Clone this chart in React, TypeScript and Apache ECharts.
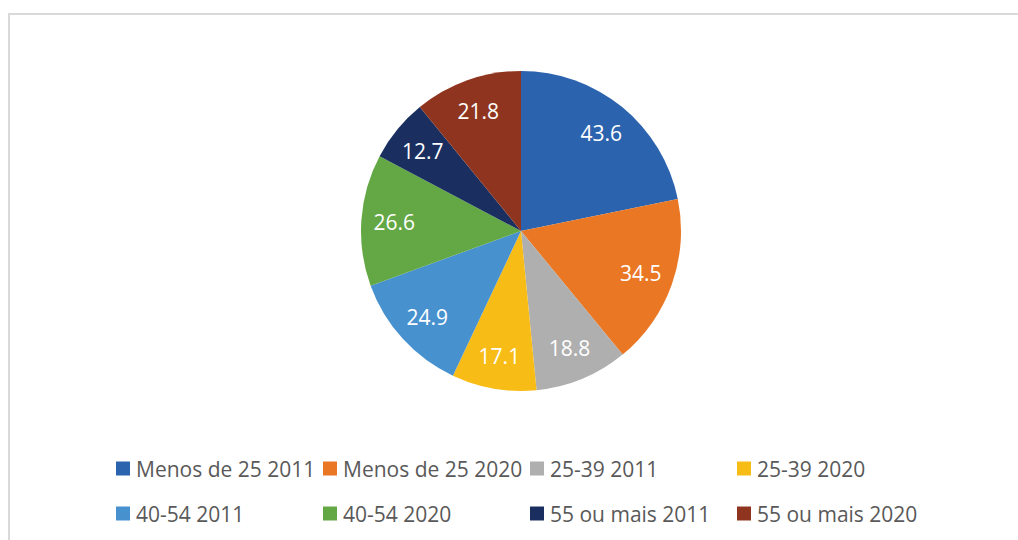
import React, { useEffect, useRef } from "react";
import * as echarts from "echarts";

const categories = [
  "Menos de 25 2011",
  "Menos de 25 2020",
  "25-39 2011",
  "25-39 2020",
  "40-54 2011",
  "40-54 2020",
  "55 ou mais 2011",
  "55 ou mais 2020",
];
const values = [43.6, 34.5, 18.8, 17.1, 24.9, 26.6, 12.7, 21.8];
const colors = ["#2B63AE", "#E97724", "#AFAFAF", "#F8BC16", "#4891CF", "#63A845", "#1A2F5F", "#8F341E"];

const FONT = "'Open Sans', sans-serif";

export default function App() {
  const ref = useRef<HTMLDivElement>(null);
  useEffect(() => {
    if (!ref.current) return;
    const chart = echarts.init(ref.current, null, { renderer: "svg" });
    const data = categories.map((name, i) => ({ name, value: values[i], itemStyle: { color: colors[i] } }));
    const colX = [116, 323, 530, 737];
    const rowY = [458, 503];
    const legends = categories.map((name, i) => ({
      data: [name],
      left: colX[i % 4],
      top: rowY[Math.floor(i / 4)],
      padding: 0,
      itemWidth: 14,
      itemHeight: 14,
      itemGap: 0,
      icon: "rect",
      selectedMode: false,
      textStyle: { fontFamily: FONT, fontSize: 21, color: "#595959", padding: [0, 0, 0, 1] },
    }));
    chart.setOption({
      animation: false,
      backgroundColor: "#ffffff",
      graphic: [
        {
          type: "rect",
          shape: { x: 9, y: 14, width: 1200, height: 700 },
          style: { fill: "none", stroke: "#D9D9D9", lineWidth: 2 },
          silent: true,
        },
      ],
      legend: legends,
      series: [
        {
          type: "pie",
          center: [521, 231],
          radius: [0, 160],
          startAngle: 90,
          clockwise: true,
          data,
          label: { show: false },
          labelLine: { show: false },
          itemStyle: { borderWidth: 0 },
          emphasis: { disabled: true },
          silent: true,
        },
        {
          type: "pie",
          center: [521, 231],
          radius: [88, 160],
          startAngle: 90,
          clockwise: true,
          data: categories.map((name, i) => ({ name, value: values[i] })),
          itemStyle: { color: "rgba(0,0,0,0)", borderWidth: 0 },
          label: {
            show: true,
            position: "inside",
            formatter: (p: any) => p.value.toFixed(1),
            color: "#ffffff",
            fontFamily: FONT,
            fontSize: 21,
          },
          labelLine: { show: false },
          emphasis: { disabled: true },
          silent: true,
        },
      ],
    });
    return () => chart.dispose();
  }, []);
  return <div ref={ref} style={{ position: "fixed", left: 0, top: 0, width: 1018, height: 540 }} />;
}
